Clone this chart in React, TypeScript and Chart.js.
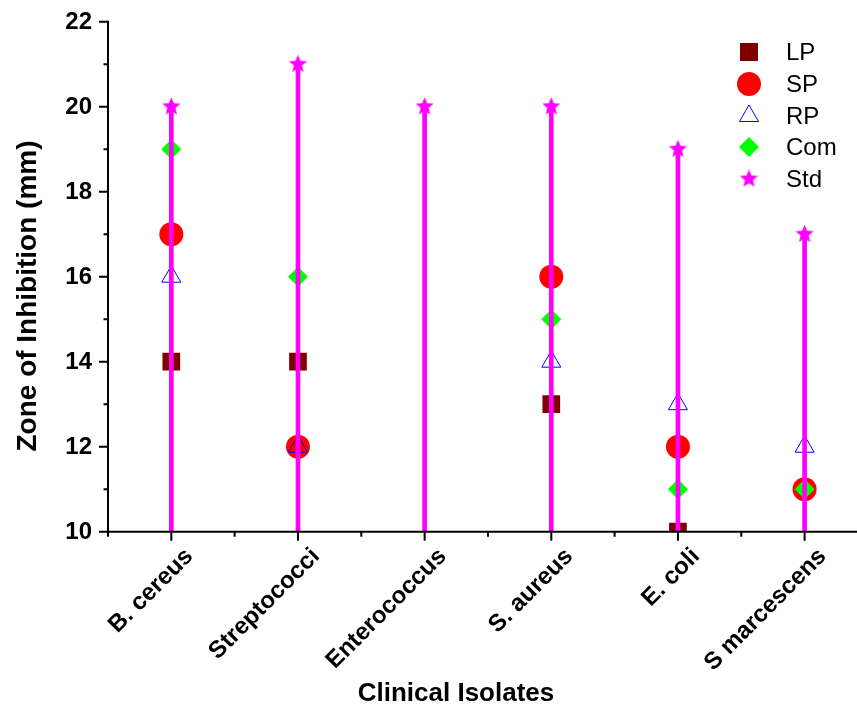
import React, { useEffect, useRef } from 'react';
import { Chart, registerables } from 'chart.js';

Chart.register(...registerables);

const categories = ['B. cereus', 'Streptococci', 'Enterococcus', 'S. aureus', 'E. coli', 'S marcescens'];
const lpValues = [14, 14, null, 13, 10, null];
const spValues = [17, 12, null, 16, 12, 11];
const rpValues = [16, 12, null, 14, 13, 12];
const comValues = [19, 16, null, 15, 11, 11];
const stdValues = [20, 21, 20, 20, 19, 17];
const yMajorTicks = [10, 12, 14, 16, 18, 20, 22];
const yMinorTicks = [11, 13, 15, 17, 19, 21];
const seriesNames = ['LP', 'SP', 'RP', 'Com', 'Std'];

const FONT = '"Liberation Sans", Arial, sans-serif';
const COLORS = { LP: '#800000', SP: '#ff0000', RP: '#0000ff', Com: '#00ff00', Std: '#ff00ff' };

function toPoints(arr: (number | null)[]) {
  const out: { x: number; y: number }[] = [];
  arr.forEach((v, i) => {
    if (v !== null && v !== undefined) out.push({ x: i, y: v });
  });
  return out;
}

function makeStar(R: number, color: string) {
  const c = document.createElement('canvas');
  const s = Math.ceil(R * 2 + 2);
  c.width = s;
  c.height = s;
  const ctx = c.getContext('2d')!;
  ctx.fillStyle = color;
  ctx.beginPath();
  for (let k = 0; k < 10; k++) {
    const r = k % 2 === 0 ? R : R * 0.45;
    const a = -Math.PI / 2 + (k * Math.PI) / 5;
    const px = s / 2 + r * Math.cos(a);
    const py = s / 2 + r * Math.sin(a);
    if (k === 0) ctx.moveTo(px, py);
    else ctx.lineTo(px, py);
  }
  ctx.closePath();
  ctx.fill();
  return c;
}

function drawMarker(ctx: CanvasRenderingContext2D, name: string, x: number, y: number, star: HTMLCanvasElement) {
  ctx.save();
  const col = (COLORS as any)[name];
  if (name === 'LP') {
    ctx.fillStyle = col;
    ctx.fillRect(x - 9, y - 9, 18, 18);
  } else if (name === 'SP') {
    ctx.fillStyle = col;
    ctx.beginPath();
    ctx.arc(x, y, 12, 0, Math.PI * 2);
    ctx.fill();
  } else if (name === 'RP') {
    const r = 11;
    ctx.strokeStyle = col;
    ctx.lineWidth = 1;
    ctx.beginPath();
    ctx.moveTo(x, y - r);
    ctx.lineTo(x + r * Math.cos(Math.PI / 6), y + r / 2);
    ctx.lineTo(x - r * Math.cos(Math.PI / 6), y + r / 2);
    ctx.closePath();
    ctx.stroke();
  } else if (name === 'Com') {
    const r = 10;
    ctx.fillStyle = col;
    ctx.beginPath();
    ctx.moveTo(x, y - r);
    ctx.lineTo(x + r, y);
    ctx.lineTo(x, y + r);
    ctx.lineTo(x - r, y);
    ctx.closePath();
    ctx.fill();
  } else {
    ctx.drawImage(star, x - star.width / 2, y - star.height / 2);
  }
  ctx.restore();
}

export default function App() {
  const ref = useRef<HTMLCanvasElement>(null);

  useEffect(() => {
    if (!ref.current) return;
    const star = makeStar(9.5, COLORS.Std);

    const axesPlugin = {
      id: 'customAxes',
      afterDraw(chart: any) {
        const ctx: CanvasRenderingContext2D = chart.ctx;
        const { left, bottom } = chart.chartArea;
        const xs = chart.scales.x;
        const ys = chart.scales.y;
        ctx.save();
        ctx.strokeStyle = '#000';
        ctx.lineWidth = 2;
        // axis lines
        ctx.beginPath();
        ctx.moveTo(left, ys.getPixelForValue(22) - 1);
        ctx.lineTo(left, bottom);
        ctx.moveTo(left - 1, bottom);
        ctx.lineTo(chart.width, bottom);
        ctx.stroke();
        // y ticks
        ctx.beginPath();
        yMajorTicks.forEach((v) => {
          const py = ys.getPixelForValue(v);
          ctx.moveTo(left - 9, py);
          ctx.lineTo(left, py);
        });
        yMinorTicks.forEach((v) => {
          const py = ys.getPixelForValue(v);
          ctx.moveTo(left - 4.5, py);
          ctx.lineTo(left, py);
        });
        // x ticks
        categories.forEach((_, i) => {
          const px = xs.getPixelForValue(i);
          ctx.moveTo(px, bottom);
          ctx.lineTo(px, bottom + 9);
        });
        for (let i = 0; i <= categories.length; i++) {
          const px = xs.getPixelForValue(i - 0.5);
          ctx.moveTo(px, bottom);
          ctx.lineTo(px, bottom + 5);
        }
        ctx.stroke();

        // y tick labels
        ctx.fillStyle = '#000';
        ctx.font = `bold 24px ${FONT}`;
        ctx.textAlign = 'right';
        ctx.textBaseline = 'middle';
        yMajorTicks.forEach((v) => {
          ctx.fillText(String(v), left - 16, ys.getPixelForValue(v) + 1);
        });

        // x tick labels
        ctx.font = `bold 24px ${FONT}`;
        categories.forEach((lab, i) => {
          const px = xs.getPixelForValue(i);
          ctx.save();
          ctx.translate(px + 18, bottom + 21);
          ctx.rotate(-Math.PI / 4);
          ctx.textAlign = 'right';
          ctx.textBaseline = 'middle';
          ctx.fillText(lab, 0, 0);
          ctx.restore();
        });

        // axis titles
        ctx.font = `bold 26px ${FONT}`;
        ctx.textAlign = 'center';
        ctx.textBaseline = 'middle';
        ctx.fillText('Clinical Isolates', 456, 694);

        ctx.save();
        ctx.translate(28, 296);
        ctx.rotate(-Math.PI / 2);
        ctx.font = `bold 28px ${FONT}`;
        ctx.fillText('Zone of Inhibition (mm)', 0, 0);
        ctx.restore();

        // legend
        const rows = [52, 84, 116, 147, 179];
        ctx.font = `24px ${FONT}`;
        ctx.textAlign = 'left';
        ctx.textBaseline = 'middle';
        seriesNames.forEach((n, k) => {
          drawMarker(ctx, n, 749, rows[k], star);
          ctx.fillStyle = '#000';
          ctx.fillText(n, 786, rows[k] + 1);
        });
        ctx.restore();
      },
    };

    const chart = new Chart(ref.current, {
      type: 'scatter',
      data: {
        datasets: [
          {
            label: 'LP',
            data: toPoints(lpValues),
            pointStyle: 'rect',
            pointRadius: 12.5,
            backgroundColor: COLORS.LP,
            borderColor: COLORS.LP,
            borderWidth: 0,
            order: 5,
            clip: 0,
          } as any,
          {
            label: 'SP',
            data: toPoints(spValues),
            pointStyle: 'circle',
            pointRadius: 12,
            backgroundColor: COLORS.SP,
            borderColor: COLORS.SP,
            borderWidth: 0,
            order: 4,
            clip: 0,
          },
          {
            label: 'RP',
            data: toPoints(rpValues),
            pointStyle: 'triangle',
            pointRadius: 11,
            backgroundColor: 'rgba(0,0,0,0)',
            borderColor: COLORS.RP,
            borderWidth: 1,
            order: 3,
            clip: 0,
          },
          {
            label: 'Com',
            data: toPoints(comValues),
            pointStyle: 'rectRot',
            pointRadius: 10,
            backgroundColor: COLORS.Com,
            borderColor: COLORS.Com,
            borderWidth: 0,
            order: 2,
            clip: 0,
          },
          {
            type: 'bar',
            label: 'Std line',
            data: toPoints(stdValues),
            backgroundColor: COLORS.Std,
            borderWidth: 0,
            barThickness: 4,
            order: 1,
            clip: 0,
          } as any,
          {
            label: 'Std',
            data: toPoints(stdValues),
            pointStyle: star,
            pointRadius: 10,
            backgroundColor: COLORS.Std,
            borderColor: COLORS.Std,
            borderWidth: 0,
            order: 0,
            clip: 0,
          },
        ],
      },
      options: {
        responsive: false,
        animation: false,
        events: [],
        layout: { padding: { left: 108, top: 21.7, right: 0, bottom: 179.3 } },
        plugins: { legend: { display: false }, tooltip: { enabled: false } },
        scales: {
          x: { type: 'linear', min: -0.5, max: 5.315, offset: false, display: false, grid: { offset: false } },
          y: { type: 'linear', min: 10, max: 22, beginAtZero: false, display: false },
        },
      },
      plugins: [axesPlugin],
    } as any);
    return () => chart.destroy();
  }, []);

  return (
    <div style={{ position: 'fixed', left: 0, top: 0, width: 857, height: 711, background: '#fff' }}>
      <canvas ref={ref} width={857} height={711} style={{ display: 'block' }} />
    </div>
  );
}
